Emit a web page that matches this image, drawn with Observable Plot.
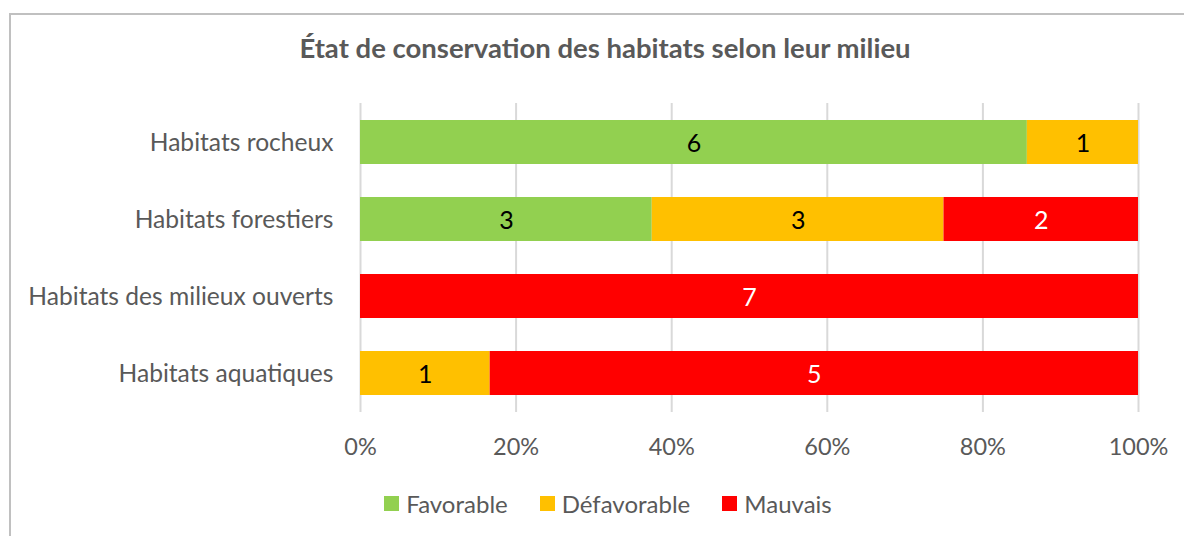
<!DOCTYPE html>
<html>
<head>
<meta charset="utf-8">
<script src="https://cdn.jsdelivr.net/npm/d3@7"></script>
<script src="https://cdn.jsdelivr.net/npm/@observablehq/plot@0.6"></script>
<style>
  html, body { margin: 0; padding: 0; background: #fff; overflow: hidden; }
  body { width: 1184px; height: 536px; position: relative; font-family: Lato, "Open Sans", sans-serif; }
  #frame { position: absolute; left: 9px; top: 13px; width: 1300px; height: 700px; border: 2px solid #c0c0c0; box-sizing: border-box; }
  #title { position: absolute; left: 0; width: 1210px; top: 31px; line-height: 33px; text-align: center; font-weight: bold; font-size: 27.5px; color: #595959; }
  #chart { position: absolute; left: 0; top: 0; }
  #legend { position: absolute; left: 0; width: 1216px; top: 489px; display: flex; justify-content: center; gap: 32px; font-size: 24px; color: #595959; }
  #legend .item { display: flex; align-items: center; gap: 7px; }
  #legend .sw { width: 15px; height: 15px; display: inline-block; }
</style>
</head>
<body>
<div id="frame"></div>
<div id="title">État de conservation des habitats selon leur milieu</div>
<div id="chart"></div>
<div id="legend"></div>
<script>
const categories = ["Habitats rocheux", "Habitats forestiers", "Habitats des milieux ouverts", "Habitats aquatiques"];
const series = ["Favorable", "Défavorable", "Mauvais"];
const favorable = [6, 3, 0, 0];
const defavorable = [1, 3, 0, 1];
const mauvais = [0, 2, 7, 5];
const xTicks = [0, 0.2, 0.4, 0.6, 0.8, 1];
const xTickLabels = ["0%", "20%", "40%", "60%", "80%", "100%"];
const colors = ["#92D050", "#FFC000", "#FF0000"];

const valuesBySeries = [favorable, defavorable, mauvais];
const rows = [];
categories.forEach((c, i) => {
  series.forEach((s, j) => {
    const v = valuesBySeries[j][i];
    if (v > 0) rows.push({habitat: c, series: s, value: v});
  });
});

const stackOpts = {x: "value", y: "habitat", offset: "normalize"};

const chart = Plot.plot({
  width: 1184,
  height: 470,
  marginLeft: 360,
  marginRight: 46,
  marginTop: 103,
  marginBottom: 58,
  style: {fontFamily: "Lato, 'Open Sans', sans-serif", fontSize: "24px", color: "#595959", background: "transparent", overflow: "visible"},
  x: {domain: [0, 1], label: null},
  y: {domain: categories, paddingInner: 0.43, paddingOuter: 0.2, label: null},
  color: {domain: series, range: colors},
  marks: [
    Plot.gridX(xTicks, {stroke: "#d9d9d9", strokeOpacity: 1, strokeWidth: 2}),
    Plot.barX(rows, Plot.stackX({...stackOpts, fill: "series"})),
    Plot.text(rows, Plot.filter(d => d.series !== "Mauvais", Plot.stackX({...stackOpts, text: "value", fill: "black", fontSize: 25, dy: 1}))),
    Plot.text(rows, Plot.filter(d => d.series === "Mauvais", Plot.stackX({...stackOpts, text: "value", fill: "white", fontSize: 25, dy: 1}))),
    Plot.axisX({ticks: xTicks, tickFormat: (d, i) => xTickLabels[i], tickSize: 0, tickPadding: 26, fontSize: 23.5, label: null}),
    Plot.axisY({tickSize: 0, tickPadding: 27, fontSize: 24.6, dy: 1, label: null})
  ]
});
document.getElementById("chart").appendChild(chart);

const legend = document.getElementById("legend");
series.forEach((s, j) => {
  const item = document.createElement("div");
  item.className = "item";
  const sw = document.createElement("span");
  sw.className = "sw";
  sw.style.background = colors[j];
  const t = document.createElement("span");
  t.textContent = s;
  item.appendChild(sw);
  item.appendChild(t);
  legend.appendChild(item);
});
</script>
</body>
</html>
